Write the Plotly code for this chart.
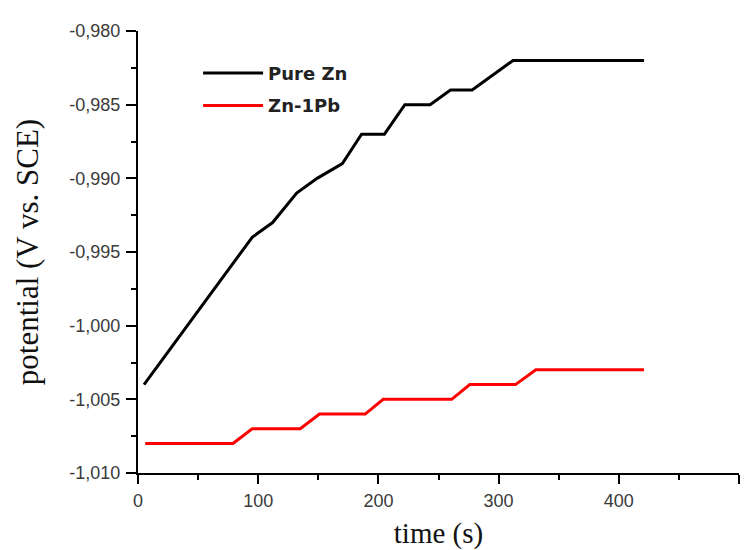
import plotly.graph_objects as go

# Data
pure_zn_t = [5, 95, 112, 132, 149, 170, 186, 205, 222, 243, 260, 278, 312, 421]
pure_zn_v = [-1.004, -0.994, -0.993, -0.991, -0.990, -0.989, -0.987, -0.987,
             -0.985, -0.985, -0.984, -0.984, -0.982, -0.982]

zn1pb_t = [6, 79, 95, 135, 151, 189, 204, 261, 276, 314, 331, 421]
zn1pb_v = [-1.008, -1.008, -1.007, -1.007, -1.006, -1.006, -1.005, -1.005,
           -1.004, -1.004, -1.003, -1.003]

x_ticks = [0, 100, 200, 300, 400, 500]
x_ticktext = ["0", "100", "200", "300", "400", "500"]
y_ticks = [-1.010, -1.005, -1.000, -0.995, -0.990, -0.985, -0.980]
y_ticktext = ["-1,010", "-1,005", "-1,000", "-0,995", "-0,990", "-0,985", "-0,980"]

fig = go.Figure()
fig.add_trace(go.Scatter(x=pure_zn_t, y=pure_zn_v, mode="lines", name="Pure Zn",
                         legendgroup="a",
                         line=dict(color="black", width=3)))
fig.add_trace(go.Scatter(x=zn1pb_t, y=zn1pb_v, mode="lines", name="Zn-1Pb",
                         legendgroup="b",
                         line=dict(color="#ff0000", width=3)))

tickfont = dict(family="Liberation Sans, Arial", size=18, color="#3a3a3a")
xtitlefont = dict(family="Liberation Serif, Times New Roman", size=29, color="#111111")
ytitlefont = dict(family="Liberation Serif, Times New Roman", size=31, color="#111111")

fig.update_layout(
    width=754, height=550,
    margin=dict(l=138, r=15, t=31, b=77),
    paper_bgcolor="white", plot_bgcolor="white",
    showlegend=True,
    legend=dict(x=0.1, y=0.946, xanchor="left", yanchor="top",
                bgcolor="rgba(0,0,0,0)", itemwidth=60,
                traceorder="grouped", tracegroupgap=6,
                font=dict(family="DejaVu Sans", size=18, color="#222222",
                          weight="bold")),
    xaxis=dict(range=[0, 500], tickvals=x_ticks, ticktext=x_ticktext,
               ticks="outside", ticklen=9,
               tickwidth=2, tickcolor="black", showline=True, linecolor="black",
               linewidth=2, showgrid=False, zeroline=False, tickfont=tickfont,
               automargin=False, ticklabelstandoff=1,
               minor=dict(dtick=50, ticks="outside", ticklen=5, tickwidth=2,
                          tickcolor="black", showgrid=False),
               title=dict(text="time (s)", font=xtitlefont, standoff=13)),
    yaxis=dict(range=[-1.010, -0.980], tickvals=y_ticks, ticktext=y_ticktext,
               ticks="outside", ticklen=10, tickwidth=2, tickcolor="black",
               showline=True, linecolor="black", linewidth=2, showgrid=False,
               zeroline=False, tickfont=tickfont,
               automargin=False, ticklabelstandoff=2,
               minor=dict(dtick=0.0025, tick0=-1.010, ticks="outside", ticklen=5,
                          tickwidth=2, tickcolor="black", showgrid=False),
               title=dict(text="potential (V vs. SCE)", font=ytitlefont, standoff=22)),
)

fig.write_html("out.html")
